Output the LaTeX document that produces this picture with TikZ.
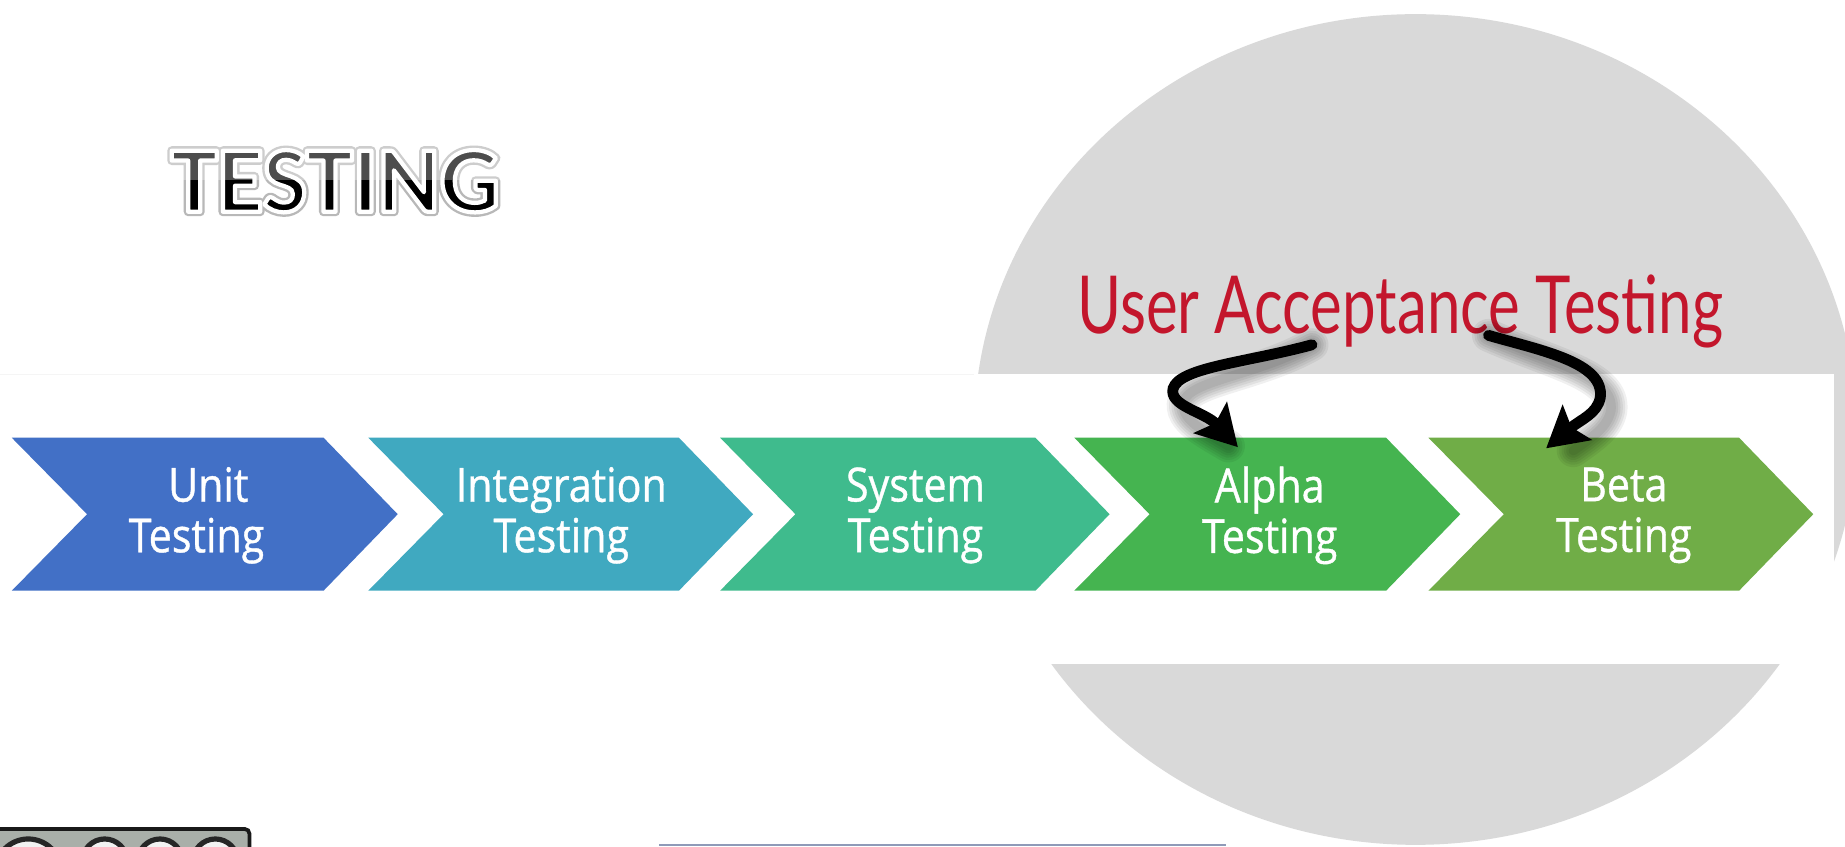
\documentclass[tikz,border=0pt]{standalone}
\usepackage{fontspec}
\setmainfont{Carlito}
\newfontfamily\stepfont[FakeStretch=0.875,FakeBold=0.8]{Open Sans}
\newfontfamily\titlehalo[FakeBold=9.5]{Carlito Bold}
\newfontfamily\titlerim[FakeBold=4.5]{Carlito Bold}
\newfontfamily\handfont[FakeStretch=0.75]{Lato}
\usetikzlibrary{arrows.meta}
\definecolor{cA}{HTML}{4270C6}
\definecolor{cB}{HTML}{40A9C0}
\definecolor{cC}{HTML}{3FBB8D}
\definecolor{cD}{HTML}{45B450}
\definecolor{cE}{HTML}{70AD47}
\definecolor{disc}{HTML}{D9D9D9}
\definecolor{hand}{HTML}{C3162C}
\definecolor{badge}{HTML}{A9AFA9}
\definecolor{edgeline}{HTML}{8F9AB8}
\tikzset{
  chev/.style={fill=#1},
  steplabel/.style={text=white,font=\stepfont\fontsize{20}{21.5}\selectfont,align=center,inner sep=0pt},
  curvearrow/.style={black,line width=4.6pt,line cap=round,-{Stealth[length=17pt,width=19pt,inset=3pt]}},
  softshadow/.style={black,opacity=0.06,line cap=round},
  ccring/.style={draw=black!85,line width=2.2pt,fill=white!90!gray}
}
\newcommand{\chevron}[3]{% left x, top right x, colour
  \fill[chev=#3] (#1,372) -- (#2,372) -- ({#2+63},437) -- (#2,502) -- (#1,502) -- ({#1+64},437) -- cycle;}
\begin{document}
\begin{tikzpicture}[x=0.5pt,y=-0.5pt]
\useasboundingbox (0,0) rectangle (1568,719);
\clip (0,0) rectangle (1568,719);
\fill[white] (0,0) rectangle (1568,719);
% disc and band
\fill[disc] (1203,365) ellipse [x radius=375,y radius=353];
\fill[white] (0,318) rectangle (1559,564);
\draw[black!4,line width=0.4pt] (0,318) -- (828,318);
% chevrons
\chevron{10}{275}{cA}
\chevron{313}{577}{cB}
\chevron{612}{880}{cC}
\chevron{913}{1178}{cD}
\chevron{1214}{1478}{cE}
\node[steplabel] (unit) at (167,438) {\hspace*{10pt}Unit\\Testing};
\node[steplabel] (integ) at (477,438) {Integration\\Testing};
\node[steplabel] (sys) at (778,438) {System\\Testing};
\node[steplabel] (alpha) at (1079,438) {Alpha\\Testing};
\node[steplabel] (beta) at (1380,438) {Beta\\Testing};
% title
\node[inner sep=0pt,font=\fontsize{40}{40}\selectfont] (title) at (285,154)
  {\special{pdf:code 1 j 1 J}\rlap{\titlehalo\textcolor{black!28}{TESTING}}{\titlerim\textcolor{black}{\special{pdf:code 1 1 1 RG}TESTING}}};
\fill[white,opacity=0.3] (140,122) rectangle (432,153);
% handwritten label
\node[inner sep=0pt,text=hand,font=\handfont\fontsize{34}{34}\selectfont] (uat) at (1190,265) {User Acceptance Testing};
% arrows
\coordinate (la) at (1115,293);
\coordinate (ta) at (1052,380);
\coordinate (lb) at (1265,285);
\coordinate (tb) at (1314,381);
\foreach \w in {14,12,10,8,6,4}{
  \draw[softshadow,line width=\w pt,xshift=4.5pt,yshift=-5.5pt]
    (la) .. controls (1060,308) and (1003,312) .. (997,330) .. controls (993,345) and (1015,356) .. (1035,368);
  \draw[softshadow,line width=\w pt,xshift=4.5pt,yshift=-5.5pt]
    (lb) .. controls (1310,298) and (1364,308) .. (1360,338) .. controls (1357,352) and (1345,360) .. (1328,372);
}
\draw[curvearrow] (la) .. controls (1060,308) and (1003,312) .. (997,330) .. controls (993,345) and (1024,350) .. (ta);
\draw[curvearrow] (lb) .. controls (1310,298) and (1364,308) .. (1360,338) .. controls (1357,352) and (1344,356) .. (tb);
% licence badge
\fill[badge,draw=black!90,line width=1.6pt,rounded corners=2pt] (-5,704.5) rectangle (212,740);
\draw[ccring] (24,741) circle (28);
\draw[ccring] (89,732) circle (19);
\draw[ccring] (136,732) circle (19);
\draw[ccring] (183,732) circle (19);
% bottom line
\fill[edgeline] (560,717.6) rectangle (1042,719);
\end{tikzpicture}
\end{document}
